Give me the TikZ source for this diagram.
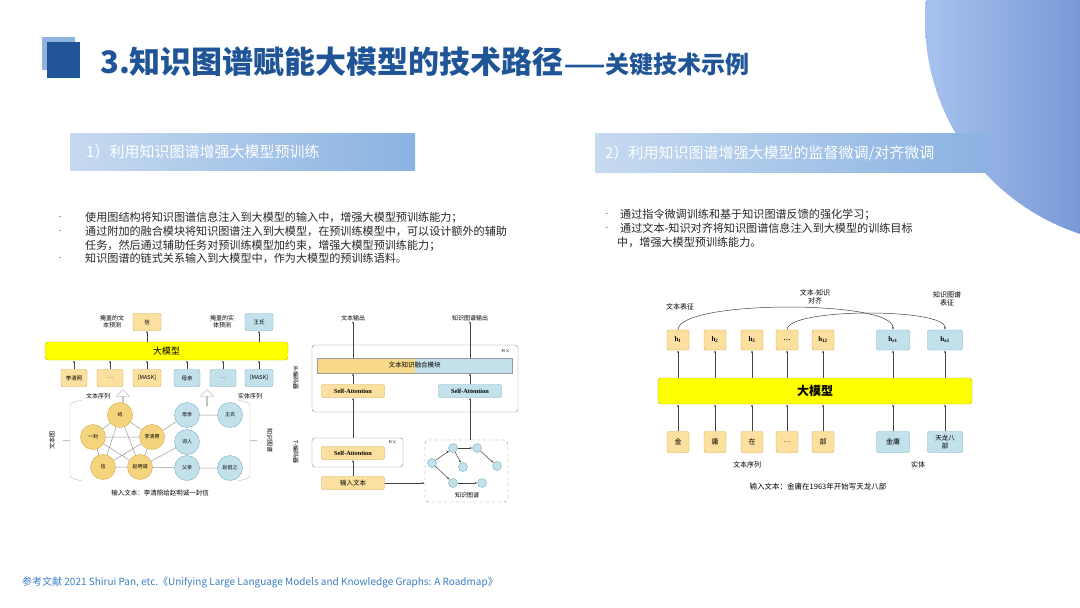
\documentclass[tikz,border=0pt]{standalone}
\usepackage{fontspec}
\setmainfont{Noto Sans CJK SC}
\newfontfamily\lsfont{Liberation Serif}
\usetikzlibrary{arrows.meta,shapes.arrows}

\definecolor{titleblue}{HTML}{1F5597}
\definecolor{squarelight}{HTML}{8FB4DE}
\definecolor{headleft}{HTML}{C6DAF0}
\definecolor{headright}{HTML}{8AB2E2}
\definecolor{circleft}{HTML}{A8C2EE}
\definecolor{circright}{HTML}{1C4AA8}
\definecolor{tokfill}{HTML}{FBE0A0}
\definecolor{fusefill}{HTML}{F8D98A}
\definecolor{tokedge}{HTML}{D8A640}
\definecolor{entfill}{HTML}{C2E1EA}
\definecolor{entedge}{HTML}{78AFC0}
\definecolor{baryellow}{HTML}{FFFF00}
\definecolor{baredge}{HTML}{C2AE00}
\definecolor{circfill}{HTML}{F4D47C}
\definecolor{circedge}{HTML}{D2A848}
\definecolor{linkgray}{HTML}{9A9A9A}
\definecolor{refblue}{HTML}{3B7DC4}

\begin{document}
\begin{tikzpicture}[x=1pt,y=-1pt,
  lbl/.style={font=\fontsize{6}{7}\selectfont, align=center, inner sep=0pt},
  tokbox/.style={draw=tokedge, fill=tokfill, rounded corners=2pt, minimum width=26pt,
    minimum height=17pt, inner sep=1pt, font=\fontsize{5.5}{6.5}\selectfont, align=center},
  entbox/.style={tokbox, draw=entedge, fill=entfill},
  llmbar/.style={draw=baredge, fill=baryellow, rounded corners=3pt, inner sep=0pt},
  ycirc/.style={circle, draw=circedge, fill=circfill, minimum size=25pt, inner sep=0pt,
    font=\fontsize{5}{6}\selectfont},
  bcirc/.style={ycirc, draw=entedge, fill=entfill},
  kgdot/.style={circle, draw=entedge, fill=entfill, minimum size=9pt, inner sep=0pt},
  link/.style={draw=linkgray, line width=0.5pt},
  arr/.style={-{Latex[length=2.5pt,width=2pt]}, draw=black!75, line width=0.5pt},
  sabox/.style={tokbox, minimum width=63pt, minimum height=13pt,
    font=\lsfont\bfseries\fontsize{6.3}{7}\selectfont},
  encbox/.style={draw=black!45, rounded corners=3pt, fill=white},
  half/.style={minimum width=97.5pt, minimum height=15pt, inner sep=0pt},
  headbox/.style={left color=headleft, right color=headright, inner sep=0pt},
  headtxt/.style={white, font=\fontsize{15}{18}\selectfont, inner sep=0pt, anchor=west},
  bultxt/.style={font=\fontsize{11.1}{13}\selectfont, text=black!85, inner sep=0pt, anchor=base west},
  bulmark/.style={font=\fontsize{9}{10}\selectfont, text=black!55, inner sep=0pt},
  hbox/.style={tokbox, minimum width=22pt, minimum height=20pt, font=\lsfont\bfseries\fontsize{7}{8}\selectfont},
  cbox/.style={tokbox, minimum width=22pt, minimum height=21pt, font=\fontsize{7}{8}\selectfont},
  hollow/.style={single arrow, draw=black!35, fill=white, shape border rotate=90,
    minimum height=16pt, minimum width=13pt, single arrow head extend=2pt, inner sep=0pt}]

  \useasboundingbox (0,0) rectangle (1080,608);

  % decoration circle top right
  \begin{scope}
    \clip (0,0) rectangle (1080,608);
    \shade[left color=circleft, right color=circright] (1150,20) circle (225);
  \end{scope}

  % title with the two squares
  \fill[squarelight] (42,37) rectangle (75,70);
  \fill[titleblue] (47,42) rectangle (80,78);
  \node[anchor=west, inner sep=0pt, text=titleblue, font=\bfseries\fontsize{31}{35}\selectfont]
    (title) at (100,62) {3.知识图谱赋能大模型的技术路径};
  \node[anchor=base west, inner sep=0pt, text=titleblue, font=\bfseries\fontsize{24}{27}\selectfont]
    (subtitle) at (title.base east) {——关键技术示例};

  % section headers
  \node[headbox, minimum width=345pt, minimum height=37pt] (headA) at (242.5,151.5) {};
  \node[headtxt] (headAtxt) at (86,152) {1）利用知识图谱增强大模型预训练};
  \node[headbox, minimum width=393pt, minimum height=39pt] (headB) at (791.5,152.5) {};
  \node[headtxt] (headBtxt) at (605,153) {2）利用知识图谱增强大模型的监督微调/对齐微调};

  % bullets left
  \node[bulmark] (mA1) at (60,218) {-};
  \node[bulmark] (mA2) at (60,232) {-};
  \node[bulmark] (mA3) at (60,259) {-};
  \node[bultxt] (bulA1) at (85,221) {使用图结构将知识图谱信息注入到大模型的输入中，增强大模型预训练能力；};
  \node[bultxt] (bulA2) at (85,235) {通过附加的融合模块将知识图谱注入到大模型，在预训练模型中，可以设计额外的辅助};
  \node[bultxt] (bulA3) at (85,249) {任务，然后通过辅助任务对预训练模型加约束，增强大模型预训练能力；};
  \node[bultxt] (bulA4) at (85,262) {知识图谱的链式关系输入到大模型中，作为大模型的预训练语料。};

  % bullets right
  \node[bulmark] (mB1) at (607,215) {-};
  \node[bulmark] (mB2) at (607,229) {-};
  \node[bultxt] (bulB1) at (620,218) {通过指令微调训练和基于知识图谱反馈的强化学习；};
  \node[bultxt] (bulB2) at (620,232) {通过文本-知识对齐将知识图谱信息注入到大模型的训练目标};
  \node[bultxt] (bulB3) at (617,246) {中，增强大模型预训练能力。};

  % ---- left figure: graph input + masked prediction
  \node[llmbar, minimum width=243pt, minimum height=18pt, font=\fontsize{9}{10}\selectfont]
    (llmA) at (166.5,351) {大模型};
  \node[lbl] (maskT) at (112,322) {掩盖的文\\本预测};
  \node[tokbox, minimum width=28pt] (outA1) at (147,322) {信};
  \node[lbl] (maskE) at (222,322) {掩盖的实\\体预测};
  \node[entbox, minimum width=28pt] (outA2) at (259,322) {王氏};
  \draw[arr] (outA1 |- llmA.north) -- (outA1);
  \draw[arr] (outA2 |- llmA.north) -- (outA2);

  \node[tokbox] (tA1) at (74,378) {李清照};
  \node[tokbox] (tA2) at (110,378) {…};
  \node[tokbox, minimum width=28pt] (tA3) at (147,378) {[MASK]};
  \node[entbox] (tA4) at (187,378) {母亲};
  \node[entbox] (tA5) at (223,378) {…};
  \node[entbox, minimum width=28pt] (tA6) at (259,378) {[MASK]};
  \foreach \t in {tA1,tA2,tA3,tA4,tA5,tA6}
    \draw[arr] (\t) -- (\t |- llmA.south);

  \node[lbl] (seqT) at (98,396) {文本序列};
  \node[lbl] (seqE) at (250,396) {实体序列};
  \node[hollow] (upT) at (123,398) {};
  \node[hollow] (upE) at (207,398) {};

  % text graph
  \node[ycirc] (gGei) at (120,415) {给};
  \node[ycirc] (gFeng) at (93,437) {一封};
  \node[ycirc] (gLi) at (152,437) {李清照};
  \node[ycirc] (gXin) at (103,467) {信};
  \node[ycirc] (gZhao) at (140,467) {赵明诚};
  % knowledge graph
  \node[bcirc] (kMu) at (187,415) {母亲};
  \node[bcirc] (kWang) at (230,415) {王氏};
  \node[bcirc] (kCi) at (187,442) {词人};
  \node[bcirc] (kFu) at (187,468) {父亲};
  \node[bcirc] (kTing) at (230,468) {赵挺之};

  \draw[link] (gGei) -- (gFeng) (gGei) -- (gLi) (gGei) -- (gXin) (gGei) -- (gZhao)
    (gFeng) -- (gLi) (gFeng) -- (gXin) (gFeng) -- (gZhao)
    (gLi) -- (gXin) (gLi) -- (gZhao) (gXin) -- (gZhao);
  \draw[link] (gLi) -- (kMu) (gZhao) -- (kCi) (gZhao) -- (kFu)
    (kMu) -- (kWang) (kFu) -- (kTing);

  % brackets
  \draw[black!25, rounded corners=3pt] (82,400) -- (70,403) -- (70,478) -- (82,481);
  \draw[black!25] (70,440) -- (63,440);
  \draw[black!25, rounded corners=3pt] (238,400) -- (250,403) -- (250,478) -- (238,481);
  \draw[black!25] (250,440) -- (257,440);
  \node[lbl, rotate=90] (txtgraph) at (52,440) {文本图};
  \node[lbl, rotate=-90] (kggraph) at (270,440) {知识图谱};

  \node[lbl, font=\fontsize{6.5}{7.5}\selectfont] (inA) at (160,493) {输入文本：李清照给赵明诚一封信};

  % ---- middle figure: fusion module
  \node[lbl, rotate=-90] (kname) at (296,378) {K-编码器};
  \node[lbl, rotate=-90] (tname) at (296,452) {T-编码器};
  \node[lbl] (outTxt) at (353,318) {文本输出};
  \node[lbl] (outKG) at (470,318) {知识图谱输出};

  \node[encbox, minimum width=206pt, minimum height=67pt] (kenc) at (415,378.5) {};
  \node[lbl, font=\fontsize{4}{5}\selectfont] (mtimes) at (506,351) {M$\times$};
  \node[half, fill=fusefill] (fuseL) at (365.75,365.5) {};
  \node[half, fill=entfill] (fuseR) at (463.25,365.5) {};
  \node[draw=black!40, minimum width=195pt, minimum height=15pt, inner sep=0pt,
    font=\fontsize{6.5}{7.5}\selectfont] (fuse) at (414.5,365.5) {文本知识融合模块};
  \node[sabox] (saL) at (353,391) {Self-Attention};
  \node[sabox, draw=entedge, fill=entfill] (saR) at (470,391) {Self-Attention};

  \node[encbox, minimum width=91pt, minimum height=29pt] (tenc) at (357.5,452.5) {};
  \node[lbl, font=\fontsize{4}{5}\selectfont] (ntimes) at (393,442) {N$\times$};
  \node[sabox] (saT) at (353,453) {Self-Attention};
  \node[tokbox, minimum width=63pt, minimum height=13pt, font=\fontsize{6.5}{7.5}\selectfont]
    (inTxt) at (353,483) {输入文本};

  \node[draw=black!50, dashed, rounded corners=4pt, minimum width=83pt, minimum height=62pt]
    (kgbox) at (466.5,471) {};
  \node[lbl] (kglbl) at (467,495) {知识图谱};
  \node[kgdot] (k1) at (432,463) {};
  \node[kgdot] (k2) at (453,448) {};
  \node[kgdot] (k3) at (477,448) {};
  \node[kgdot] (k4) at (463,467) {};
  \node[kgdot] (k5) at (497,466) {};
  \node[kgdot] (k6) at (453,483) {};
  \node[kgdot] (k7) at (482,483) {};
  \draw[arr] (k1) -- (k2);
  \draw[arr] (k2) -- (k3);
  \draw[arr] (k2) -- (k4);
  \draw[arr] (k3) -- (k5);
  \draw[arr] (k1) -- (k6);
  \draw[arr] (k6) -- (k7);

  \draw[arr] (inTxt) -- (saT);
  \draw[arr] (saT |- tenc.north) -- (saL);
  \draw[arr] (saL) -- (saL |- fuse.south);
  \draw[arr] (outTxt |- fuse.north) -- (outTxt);
  \draw[arr] (saR |- kgbox.north) -- (saR);
  \draw[arr] (saR) -- (saR |- fuse.south);
  \draw[arr] (outKG |- fuse.north) -- (outKG);
  \draw[arr] (inTxt.east) -- (inTxt.east -| kgbox.west);

  % ---- right figure: text-knowledge alignment
  \node[llmbar, minimum width=314pt, minimum height=26pt, font=\bfseries\fontsize{12}{14}\selectfont]
    (llmC) at (815,391) {大模型};
  \node[hbox] (h1) at (678,340) {h\textsubscript{1}};
  \node[hbox] (h2) at (715,340) {h\textsubscript{2}};
  \node[hbox] (h3) at (752,340) {h\textsubscript{3}};
  \node[hbox] (hd) at (787,340) {…};
  \node[hbox] (h5) at (823,340) {h\textsubscript{12}};
  \node[hbox, draw=entedge, fill=entfill, minimum width=33pt] (he1) at (893,340) {h\textsubscript{e1}};
  \node[hbox, draw=entedge, fill=entfill, minimum width=35pt] (he2) at (945,340) {h\textsubscript{e2}};
  \foreach \h in {h1,h2,h3,hd,h5,he1,he2}
    \draw[arr] (\h |- llmC.north) -- (\h);

  \draw[arr] (h1.north) .. controls +(0,-30) and +(0,-30) .. (he1.north);
  \draw[arr] (hd.north) .. controls +(0,-22) and +(0,-22) .. (he2.north);
  \node[lbl, font=\fontsize{7}{8}\selectfont] (repT) at (680,307) {文本表征};
  \node[lbl, font=\fontsize{7}{8}\selectfont] (align) at (815,297) {文本-知识\\对齐};
  \node[lbl, font=\fontsize{7}{8}\selectfont] (repK) at (947,299) {知识图谱\\表征};

  \node[cbox] (c1) at (678,442) {金};
  \node[cbox] (c2) at (715,442) {庸};
  \node[cbox] (c3) at (752,442) {在};
  \node[cbox] (cd) at (787,442) {…};
  \node[cbox] (c5) at (823,442) {部};
  \node[cbox, draw=entedge, fill=entfill, minimum width=33pt] (ce1) at (893,442) {金庸};
  \node[cbox, draw=entedge, fill=entfill, minimum width=35pt, font=\fontsize{6.5}{7.5}\selectfont] (ce2) at (945,442) {天龙八\\部};
  \foreach \c in {c1,c2,c3,cd,c5,ce1,ce2}
    \draw[arr] (\c) -- (\c |- llmC.south);

  \node[lbl, font=\fontsize{7}{8}\selectfont] (seqC) at (747,465) {文本序列};
  \node[lbl, font=\fontsize{7}{8}\selectfont] (entC) at (918,465) {实体};
  \node[lbl, font=\fontsize{7.5}{8.5}\selectfont] (inC) at (818,487) {输入文本：金庸在1963年开始写天龙八部};

  % reference line
  \node[anchor=west, inner sep=0pt, text=refblue, font=\fontsize{10}{12}\selectfont] (refs) at (22,583)
    {参考文献 2021 Shirui Pan, etc.《Unifying Large Language Models and Knowledge Graphs: A Roadmap》};
\end{tikzpicture}
\end{document}
